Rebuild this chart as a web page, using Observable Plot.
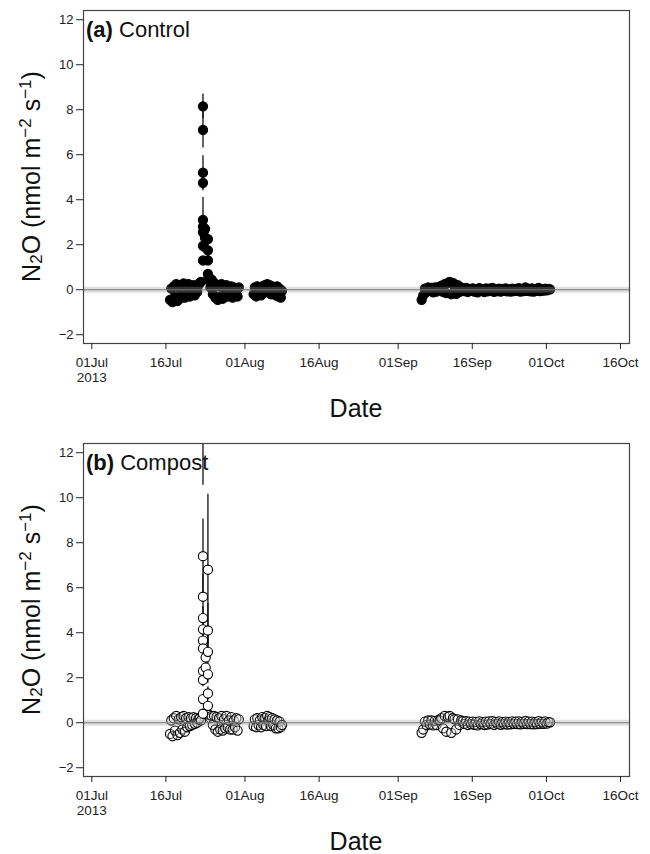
<!DOCTYPE html>
<html><head><meta charset="utf-8">
<script src="https://cdn.jsdelivr.net/npm/d3@7"></script>
<script src="https://cdn.jsdelivr.net/npm/@observablehq/plot@0.6"></script>
<style>
body{margin:0;background:#fff;}
#chart{width:650px;}
#chart svg{display:block;}
</style></head><body><div id="chart"></div>
<script>
// ---- axes ----
const xDomainDates = ["2013-06-29T07:40:00Z", "2013-10-17T19:40:00Z"];
const yDomain = [-2.39, 12.41];
const xTickDates = ["2013-07-01", "2013-07-16", "2013-08-01", "2013-08-16", "2013-09-01", "2013-09-16", "2013-10-01", "2013-10-16"];
const xTickLabels = ["01Jul\n2013", "16Jul", "01Aug", "16Aug", "01Sep", "16Sep", "01Oct", "16Oct"];
const yTicks = [-2, 0, 2, 4, 6, 8, 10, 12];

// ---- measurement segments (start time, sampling step in hours) ----
const segStarts = ["2013-07-16T20:00:00Z", "2013-07-24T18:00:00Z", "2013-08-02T18:00:00Z", "2013-09-05T18:00:00Z"];
const segStepHours = [6, 6, 6, 8];

// ---- Control ----
const controlSeg1 = [-0.45, 0.05, -0.55, 0.15, -0.3, 0.25, -0.5, 0.1, -0.4, 0.2, -0.25, 0.28, -0.35, 0.15, -0.2, 0.25, -0.3, 0.1, -0.15, 0.2, -0.25, 0.15, -0.1, 0.2, 0.3, 0.35];
const controlSeg2 = [0.55, 0.1, 0.45, -0.2, 0.3, -0.35, 0.2, -0.45, 0.15, -0.3, 0.25, -0.4, 0.1, -0.2, 0.2, -0.3, 0.05, -0.15, 0.15, -0.35, 0.1, -0.25, 0.0, -0.3, 0.1];
const controlSeg3 = [-0.2, 0.1, -0.3, 0.15, -0.1, 0.05, -0.25, 0.15, -0.15, 0.2, -0.1, 0.25, 0.05, 0.2, -0.2, 0.15, -0.1, 0.1, -0.25, 0.15, -0.3, 0.05, -0.35, -0.05];
const controlSeg4 = [-0.45, -0.25, 0.05, -0.1, 0.1, -0.05, 0.08, -0.12, 0.1, -0.08, 0.12,
  0.05, 0.18, -0.1, 0.25, -0.15, 0.3, 0.35, -0.2, 0.3, 0.15, -0.18, 0.2, -0.1, 0.1,
  0.05, -0.06, 0.08, -0.1, 0.04, -0.05, 0.06, -0.08, 0.03, -0.12, 0.07, -0.05, 0.02, -0.1, 0.06, -0.07, 0.05, -0.04, 0.08, -0.09,
  0.03, -0.06, 0.05, -0.08, 0.04, -0.05, 0.06, -0.07, 0.02, -0.08, 0.05, -0.06, 0.04, -0.05, 0.07, -0.08, 0.03, -0.06, 0.1, -0.05,
  0.04, -0.07, 0.06, -0.08, 0.02, -0.05, 0.08, -0.06, 0.03, -0.04, 0.05, -0.03, 0.04, 0.02];
const controlPeakTimes = ["2013-07-23T12:00:00Z", "2013-07-23T12:00:00Z", "2013-07-23T12:00:00Z", "2013-07-23T12:00:00Z", "2013-07-23T12:00:00Z", "2013-07-23T12:00:00Z", "2013-07-23T12:00:00Z", "2013-07-23T12:00:00Z", "2013-07-23T12:00:00Z",
  "2013-07-23T22:00:00Z", "2013-07-23T22:00:00Z",
  "2013-07-24T12:00:00Z", "2013-07-24T12:00:00Z", "2013-07-24T12:00:00Z", "2013-07-24T12:00:00Z", "2013-07-24T12:00:00Z"];
const controlPeakValues = [8.15, 7.1, 5.2, 4.75, 3.1, 2.8, 2.55, 1.95, 1.3, 2.7, 2.3, 2.25, 1.75, 1.3, 0.7, 0.45];
const controlPeakErrors = [0.55, 0.8, 0.75, 0.35, 1.0, 0.3, 0.3, 0.3, 0.15, 0.2, 0.2, 0.3, 0.3, 0.2, 0.2, 0.1];

// ---- Compost ----
const compostSeg1 = [-0.5, 0.1, -0.6, 0.2, -0.35, 0.3, -0.55, 0.15, -0.45, 0.25, -0.3, 0.3, -0.4, 0.2, -0.2, 0.25, -0.15, 0.2, -0.1, 0.25, -0.05, 0.2, 0.0, 0.15, 0.2, 0.1];
const compostSeg2 = [0.35, 0.2, 0.3, -0.1, 0.3, -0.3, 0.25, -0.4, 0.2, -0.3, 0.3, -0.35, 0.15, -0.25, 0.3, -0.2, 0.1, -0.3, 0.25, -0.3, 0.1, -0.2, 0.2, -0.35, 0.15];
const compostSeg3 = [-0.15, 0.15, -0.2, 0.2, -0.1, 0.1, -0.2, 0.25, -0.1, 0.2, -0.15, 0.3, 0.1, 0.25, -0.15, 0.2, -0.1, 0.15, -0.25, 0.1, -0.25, 0.05, -0.2, -0.1];
const compostSeg4 = [-0.45, -0.3, 0.05, -0.1, 0.1, -0.08, 0.1, -0.12, 0.08, -0.1, 0.12,
  0.1, 0.2, -0.25, 0.3, -0.4, 0.25, 0.3, -0.45, 0.2, 0.15, -0.3, 0.15, -0.1, 0.1,
  0.06, -0.05, 0.07, -0.1, 0.05, -0.06, 0.05, -0.09, 0.04, -0.12, 0.06, -0.06, 0.03, -0.1, 0.05, -0.08, 0.06, -0.05, 0.07, -0.1,
  0.04, -0.05, 0.06, -0.09, 0.03, -0.06, 0.05, -0.08, 0.03, -0.07, 0.06, -0.05, 0.05, -0.06, 0.06, -0.07, 0.04, -0.05, 0.08, -0.06,
  0.05, -0.06, 0.05, -0.07, 0.03, -0.06, 0.07, -0.05, 0.04, -0.05, 0.06, -0.04, 0.03, 0.02];
const compostPeakTimes = ["2013-07-23T12:00:00Z", "2013-07-23T12:00:00Z", "2013-07-23T12:00:00Z", "2013-07-23T12:00:00Z", "2013-07-23T12:00:00Z", "2013-07-23T12:00:00Z", "2013-07-23T12:00:00Z", "2013-07-23T12:00:00Z", "2013-07-23T12:00:00Z", "2013-07-23T12:00:00Z", "2013-07-23T12:00:00Z",
  "2013-07-24T01:00:00Z", "2013-07-24T01:00:00Z",
  "2013-07-24T12:00:00Z", "2013-07-24T12:00:00Z", "2013-07-24T12:00:00Z", "2013-07-24T12:00:00Z", "2013-07-24T12:00:00Z", "2013-07-24T12:00:00Z"];
const compostPeakValues = [14.2, 7.4, 5.6, 4.65, 4.15, 3.65, 3.3, 2.3, 1.9, 1.05, 0.4, 2.9, 2.45, 6.8, 4.1, 3.15, 2.15, 1.3, 0.75];
const compostPeakErrors = [3.65, 1.65, 1.0, 0.5, 0.4, 0.4, 0.3, 0.3, 0.3, 0.2, 0.2, 0.3, 0.3, 3.35, 1.2, 0.9, 0.4, 0.3, 0.2];

// ---- build tables ----
function buildRows(segs, peakTimes, peakValues, peakErrors) {
  const rows = [];
  segs.forEach((vals, s) => {
    const t0 = new Date(segStarts[s]).getTime();
    vals.forEach((v, i) => rows.push({date: new Date(t0 + i * segStepHours[s] * 3600e3), value: v}));
  });
  const peaks = peakValues.map((v, i) => ({date: new Date(peakTimes[i]), value: v, lo: v - peakErrors[i], hi: v + peakErrors[i]}));
  return {rows, peaks};
}

const FONT = "'Liberation Sans', Arial, Helvetica, sans-serif";
const xDomain = xDomainDates.map(d => new Date(d));
const xTicks = xTickDates.map(d => new Date(d + "T00:00:00Z"));
const tickLabelMap = new Map(xTicks.map((d, i) => [+d, xTickLabels[i]]));

function panel({data, fill, fillOpacity, letter, name, height, marginBottom}) {
  const marginTop = 10, marginLeft = 83, marginRight = 21;
  const svg = Plot.plot({
    width: 650, height, marginTop, marginBottom, marginLeft, marginRight,
    x: {type: "utc", domain: xDomain},
    y: {domain: yDomain},
    style: {fontFamily: FONT, fontSize: "13px", color: "#222", background: "white", overflow: "visible"},
    marks: [
      Plot.ruleX(data.peaks, {x: "date", y1: "lo", y2: "hi", stroke: "#111", strokeWidth: 1.3, clip: true}),
      Plot.dot(data.rows, {x: "date", y: "value", r: 4.6, fill, fillOpacity, stroke: "#000", strokeWidth: 1.1, clip: true}),
      Plot.dot(data.peaks, {x: "date", y: "value", r: 4.6, fill, stroke: "#000", strokeWidth: 1.1, clip: true}),
      Plot.ruleY([0], {stroke: "#a0a0a0", strokeOpacity: 0.32, strokeWidth: 6}),
      Plot.ruleY([0], {stroke: "#777", strokeWidth: 1.2}),
      Plot.frame({stroke: "#444", strokeWidth: 1.2}),
      Plot.axisX({ticks: xTicks, tickFormat: d => tickLabelMap.get(+d), tickSize: 6, tickPadding: 7, label: null, lineHeight: 1.1, fontSize: 13.5}),
      Plot.axisY({ticks: yTicks, tickSize: 7, tickPadding: 3, label: null, fontSize: 13})
    ]
  });
  const s = d3.select(svg);
  const frameH = height - marginTop - marginBottom;
  const cy = marginTop + frameH / 2;
  const cx = (marginLeft + 650 - marginRight) / 2;
  const yl = s.append("text")
    .attr("transform", `translate(40,${cy}) rotate(-90)`)
    .attr("text-anchor", "middle").attr("font-family", FONT).attr("font-size", 25).attr("fill", "#111");
  yl.append("tspan").text("N");
  yl.append("tspan").attr("font-size", 17).attr("dy", 2).text("2");
  yl.append("tspan").attr("dy", -2).text("O (nmol m");
  yl.append("tspan").attr("font-size", 17).attr("dy", -9).text("−2");
  yl.append("tspan").attr("dy", 9).text(" s");
  yl.append("tspan").attr("font-size", 17).attr("dy", -9).text("−1");
  yl.append("tspan").attr("dy", 9).text(")");
  s.append("text").attr("x", cx).attr("y", marginTop + frameH + 74)
    .attr("text-anchor", "middle").attr("font-family", FONT).attr("font-size", 25).attr("fill", "#111").text("Date");
  const t = s.append("text").attr("x", 86).attr("y", marginTop + 26.5)
    .attr("text-anchor", "start").attr("font-family", FONT).attr("font-size", 22).attr("fill", "#111");
  t.append("tspan").attr("font-weight", "bold").text(`(${letter})`);
  t.append("tspan").text(" " + name);
  return svg;
}

const control = buildRows([controlSeg1, controlSeg2, controlSeg3, controlSeg4], controlPeakTimes, controlPeakValues, controlPeakErrors);
const compost = buildRows([compostSeg1, compostSeg2, compostSeg3, compostSeg4], compostPeakTimes, compostPeakValues, compostPeakErrors);

const root = document.getElementById("chart");
root.appendChild(panel({data: control, fill: "#000", fillOpacity: 1, letter: "a", name: "Control", height: 433, marginBottom: 90}));
root.appendChild(panel({data: compost, fill: "#fff", fillOpacity: 0.3, letter: "b", name: "Compost", height: 421, marginBottom: 78}));
</script>
</body></html>
